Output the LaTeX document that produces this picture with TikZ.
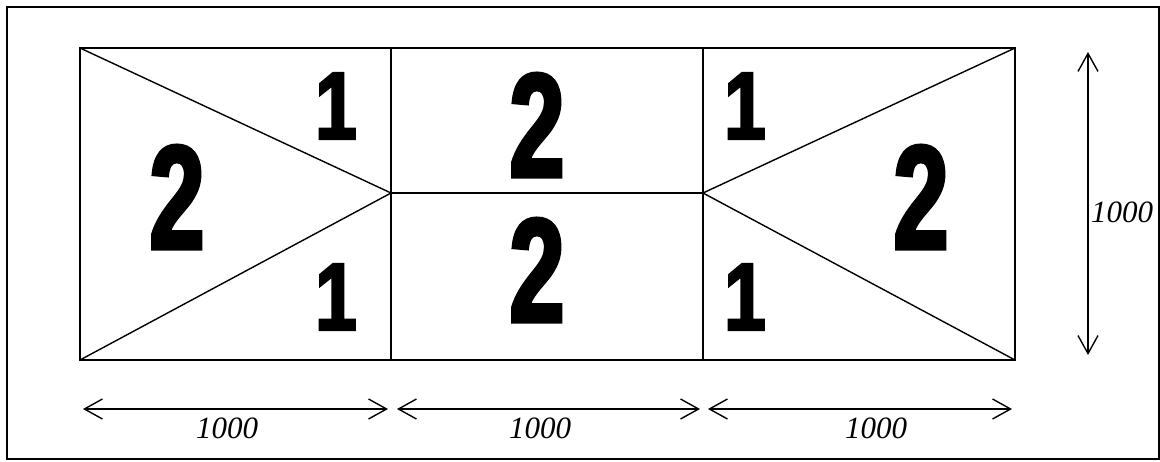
\documentclass[tikz,border=0pt]{standalone}
\usepackage{fontspec}
\setmainfont{Liberation Serif}
\newfontfamily\bigtwo[FakeStretch=0.67,FakeBold=2.5]{Liberation Sans Bold}
\newfontfamily\bigone[FakeStretch=0.78,FakeBold=3]{Liberation Sans Bold}
\usetikzlibrary{arrows.meta}
\begin{document}
\begin{tikzpicture}[x=1pt,y=-1pt,
  frame/.style={line width=1.6pt},
  cell/.style={line width=2pt},
  diag/.style={line width=1.4pt},
  dim/.style={line width=1.4pt,{Straight Barb[length=18pt,width=20pt,line width=1.4pt]}-{Straight Barb[length=18pt,width=20pt,line width=1.4pt]}},
  two/.style={inner sep=0pt,font=\bigtwo\fontsize{148}{148}\selectfont},
  one/.style={inner sep=0pt,font=\bigone\fontsize{95}{95}\selectfont},
  dimlabel/.style={inner sep=0pt,font=\itshape\fontsize{31}{31}\selectfont}]
\useasboundingbox (0,0) rectangle (1160,461);
\draw[frame] (7,7) rectangle (1159,459);
% vertices
\coordinate (A) at (80,48);
\coordinate (B) at (391,48);
\coordinate (C) at (703,48);
\coordinate (D) at (1015,48);
\coordinate (E) at (80,360);
\coordinate (F) at (391,360);
\coordinate (G) at (703,360);
\coordinate (H) at (1015,360);
\coordinate (M1) at (391,193);
\coordinate (M2) at (703,193);
\draw[cell] (A) rectangle (H);
\draw[cell] (B) -- (F);
\draw[cell] (C) -- (G);
\draw[cell] (M1) -- (M2);
\draw[diag] (A) -- (M1) -- (E);
\draw[diag] (D) -- (M2) -- (H);
% numbers
\node[two] (n2a) at (177,197) {2};
\node[two] (n2b) at (537,125) {2};
\node[two] (n2c) at (537,270) {2};
\node[two] (n2d) at (921,197) {2};
\node[one] (n1a) at (336,106) {1};
\node[one] (n1b) at (336,297) {1};
\node[one] (n1c) at (745,106) {1};
\node[one] (n1d) at (745,297) {1};
% dimension arrows
\coordinate (a1s) at (83,409);
\coordinate (a1e) at (388,409);
\coordinate (a2s) at (397,409);
\coordinate (a2e) at (700,409);
\coordinate (a3s) at (708,409);
\coordinate (a3e) at (1012,409);
\coordinate (vs) at (1088,52);
\coordinate (ve) at (1088,355);
\draw[dim] (a1s) -- (a1e);
\draw[dim] (a2s) -- (a2e);
\draw[dim] (a3s) -- (a3e);
\draw[dim] (vs) -- (ve);
\node[dimlabel] (l1) at (227,428) {1000};
\node[dimlabel] (l2) at (540,428) {1000};
\node[dimlabel] (l3) at (876,428) {1000};
\node[dimlabel] (l4) at (1122,212) {1000};
\end{tikzpicture}
\end{document}
